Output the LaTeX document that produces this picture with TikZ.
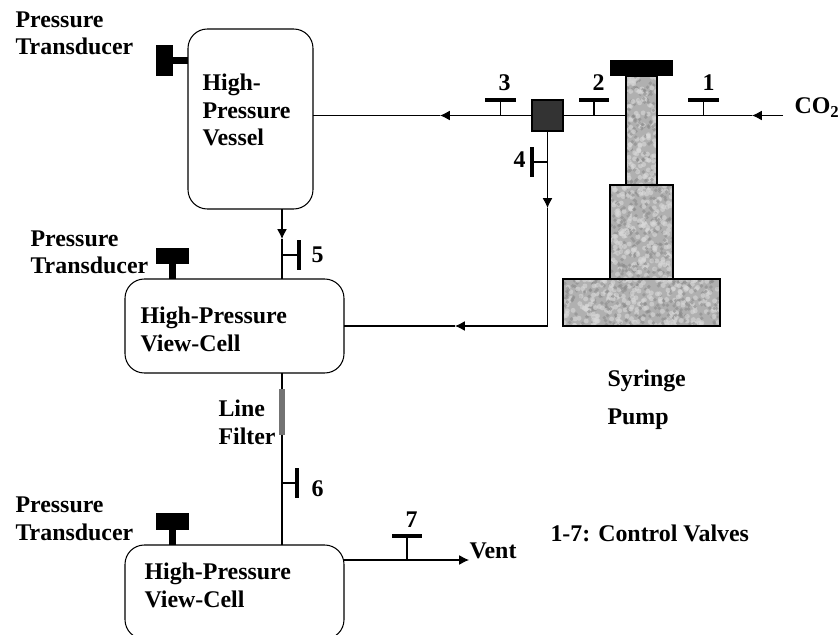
\documentclass[tikz,border=0pt]{standalone}
\usepackage{fontspec}
\setmainfont{Liberation Serif}
\usetikzlibrary{arrows.meta}
\tikzset{
  txt/.style={font=\bfseries\fontsize{13.6}{15.9}\selectfont, inner sep=0pt, anchor=base west, align=left},
  box/.style={draw, rounded corners=11pt, line width=0.6pt, inner sep=0pt, outer sep=0pt},
  solid black/.style={fill=black, inner sep=0pt, outer sep=0pt},
  valvebar/.style={solid black, minimum width=17.5pt, minimum height=1.8pt},
  valvebarv/.style={solid black, minimum width=1.8pt, minimum height=17.5pt},
  speckled/.style n args={3}{draw, fill=gray!62, line width=0.6pt, inner sep=0pt, outer sep=0pt,
    minimum width=#1*0.02cm, minimum height=#2*0.02cm,
    path picture={
      \foreach \i in {1,...,#3} {
        \fill[gray!30, opacity=0.6] ([shift={(rnd*#1,rnd*#2)}]path picture bounding box.north west) circle (1.4pt);
        \fill[gray!110!black, opacity=0.6] ([shift={(rnd*#1,rnd*#2)}]path picture bounding box.north west) circle (1.1pt);
      }}},
}
\begin{document}
\begin{tikzpicture}[x=0.02cm, y=-0.02cm, line width=0.6pt, >={Latex[length=5.6pt,width=5.6pt]}]
  \useasboundingbox (0,0) rectangle (839,635);
  \pgfmathsetseed{7}
  % vessel and view cells
  \node[box, minimum width=125*0.02cm, minimum height=180*0.02cm] (vessel) at (250.5,119) {};
  \node[box, minimum width=219*0.02cm, minimum height=94*0.02cm] (cellA) at (234.5,326) {};
  \node[box, minimum width=219*0.02cm, minimum height=94*0.02cm] (cellB) at (234.5,592) {};
  \node[txt] (vesseltxt) at (202,146) {High-\\Pressure\\Vessel};
  \node[txt] (cellAtxt) at (140,351) {High-Pressure\\View-Cell};
  \node[txt] (cellBtxt) at (144,607) {High-Pressure\\View-Cell};
  % syringe pump
  \node[speckled={31}{109}{110}] (column) at (641.5,130.5) {};
  \node[speckled={63}{94}{190}] (barrel) at (641.5,232) {};
  \node[speckled={157}{47}{240}] (base) at (641.5,302.5) {};
  \node[solid black, minimum width=63*0.02cm, minimum height=16*0.02cm] (cap) at (641.5,68) {};
  \node[txt, align=left] (pumptxt) at (607,424) {Syringe\\[5.6pt]Pump};
  % tee
  \node[draw, fill=black!80, inner sep=0pt, outer sep=0pt, minimum size=31*0.02cm] (tee) at (547.5,115.5) {};
  % transducers
  \node[solid black, minimum width=17*0.02cm, minimum height=31*0.02cm] (headV) at (164.5,60.5) {};
  \node[solid black, minimum width=33*0.02cm, minimum height=16*0.02cm] (headA) at (172.5,256) {};
  \node[solid black, minimum width=33*0.02cm, minimum height=17*0.02cm] (headB) at (172.5,521.5) {};
  \draw[line width=4pt] (headV.east) -- (vessel.west |- headV);
  \draw[line width=4pt] (headA.south) -- (headA |- cellA.north);
  \draw[line width=4pt] (headB.south) -- (headB |- cellB.north);
  \node[txt] (labelV) at (15,55) {Pressure\\Transducer};
  \node[txt] (labelA) at (30,274) {Pressure\\Transducer};
  \node[txt] (labelB) at (15,540) {Pressure\\Transducer};
  % lines
  \coordinate (inlet) at (783,115.5);
  \coordinate (arrowCO) at (752,115.5);
  \coordinate (arrowV) at (440,115.5);
  \coordinate (arrowDown) at (547.5,208);
  \coordinate (elbow) at (547.5,326);
  \coordinate (arrowA) at (455,326);
  \coordinate (arrowFive) at (282,239);
  \coordinate (ventend) at (469,560);
  \draw[->] (inlet) -- (arrowCO);
  \draw (arrowCO) -- (column.east |- arrowCO);
  \draw (column.west |- tee) -- (tee.east);
  \draw[->] (tee.west) -- (arrowV);
  \draw (arrowV) -- (vessel.east |- arrowV);
  \draw[->] (tee.south) -- (arrowDown);
  \draw (arrowDown) -- (elbow);
  \draw[->] (elbow) -- (arrowA);
  \draw (arrowA) -- (cellA.east |- arrowA);
  \draw[->] (arrowFive |- vessel.south) -- (arrowFive);
  \draw (arrowFive) -- (arrowFive |- cellA.north);
  \draw (arrowFive |- cellA.south) -- (arrowFive |- cellB.north);
  \draw[->] (cellB.east |- ventend) -- (ventend);
  % line filter
  \node[fill=black!55, inner sep=0pt, minimum width=6*0.02cm, minimum height=46*0.02cm] (filter) at (282,412) {};
  \node[txt] (filtertxt) at (218,444) {Line\\Filter};
  % valves on horizontal lines
  \foreach \n/\x/\y/\ly/\lx in {1/703.5/115.5/91/702, 2/594/115.5/91/592, 3/500.5/115.5/91/498, 7/407/560/527/405} {
    \node[valvebar] (valve\n) at (\x,{\ly+9}) {};
    \draw[line width=1pt] (valve\n.south) -- (\x,\y);
    \node[txt] (num\n) at (\lx,\ly) {\n};
  }
  % valves on vertical lines
  \foreach \n/\x/\y/\bx/\lx/\ly in {4/547.5/162/532/513/168, 5/282/255/299/311/262, 6/282/483/297/311/496} {
    \node[valvebarv] (valve\n) at (\bx,\y) {};
    \draw[line width=1pt] (valve\n.center) -- (\x,\y);
    \node[txt] (num\n) at (\lx,\ly) {\n};
  }
  % remaining labels
  \node[txt] (cotxt) at (794,114) {CO\textsubscript{2}};
  \node[txt] (venttxt) at (469,558) {Vent};
  \node[txt] (legend) at (550,541) {1-7: Control Valves};
\end{tikzpicture}
\end{document}
